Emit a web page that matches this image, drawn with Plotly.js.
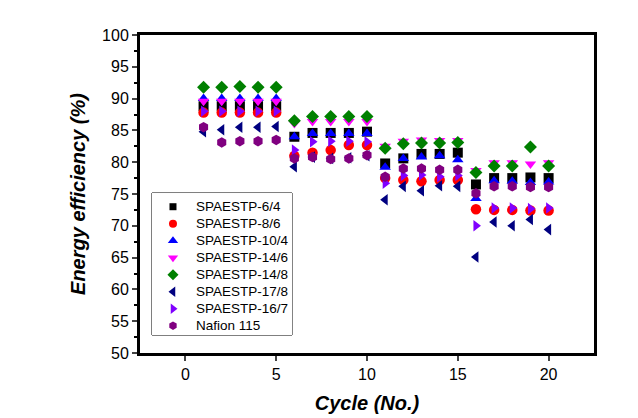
<!DOCTYPE html>
<html>
<head>
<meta charset="utf-8">
<script src="https://cdn.plot.ly/plotly-3.0.1.min.js"></script>
<style>html,body{margin:0;padding:0;background:#fff;}#chart{width:638px;height:418px;}</style>
</head>
<body>
<div id="chart"></div>
<script>
const cycles = [1,2,3,4,5,6,7,8,9,10,11,12,13,14,15,16,17,18,19,20];
const seriesNames = ["SPAESTP-6/4","SPAESTP-8/6","SPAESTP-10/4","SPAESTP-14/6","SPAESTP-14/8","SPAESTP-17/8","SPAESTP-16/7","Nafion 115"];
const s6_4  = [88.8,88.8,88.8,88.8,88.8, 84.0,84.6,84.6,84.6,84.8, 79.8,80.6,81.3,81.3,81.5, 76.5,77.5,77.5,77.6,77.5];
const s8_6  = [87.8,87.8,87.8,87.8,87.8, 81.0,81.5,81.9,82.7,82.7, 77.5,77.2,77.0,77.2,77.2, 72.6,72.5,72.5,72.4,72.4];
const s10_4 = [90.0,90.0,90.0,90.0,90.0, 84.0,84.5,84.5,84.5,84.5, 79.2,80.6,80.8,81.0,80.4, 74.3,77.1,77.0,76.8,76.9];
const s14_6 = [89.6,89.6,89.6,89.6,89.6, 86.1,86.4,86.4,86.4,86.4, 82.5,83.3,83.5,83.4,83.4, 78.7,79.9,79.9,79.7,79.9];
const s14_8 = [91.8,91.8,91.9,91.8,91.8, 86.5,87.2,87.2,87.2,87.2, 82.2,82.9,83.0,83.0,83.1, 78.4,79.4,79.4,82.4,79.4];
const s17_8 = [84.8,85.1,85.5,85.5,85.6, 79.3,80.8,80.6,80.7,81.0, 74.1,76.2,75.5,76.3,76.2, 65.1,70.6,70.0,71.0,69.4];
const s16_7 = [88.0,88.0,88.0,88.0,88.0, 81.9,83.2,83.3,83.3,83.2, 76.7,77.9,78.0,77.7,77.9, 70.0,72.8,72.8,72.7,72.8];
const nafion = [85.5,83.1,83.3,83.3,83.5, 80.6,80.8,80.5,80.6,81.1, 77.7,79.0,79.0,78.8,78.8, 75.1,76.2,76.2,76.1,76.1];

const allSeries = [s6_4,s8_6,s10_4,s14_6,s14_8,s17_8,s16_7,nafion];
const symbols = ["square","circle","triangle-up","triangle-down","diamond","triangle-left","triangle-right","hexagon"];
const colors = ["#000000","#ff0000","#0000ff","#ff00ff","#008000","#000080","#8000ff","#800080"];
const sizes = [10,10.5,10,10,10,10,10,10.5];
const legendSizes = [7,8,9,9,8.5,9,9,8.5];

const traces = allSeries.map((ys,i)=>({
  x: cycles, y: ys, type:'scatter', mode:'markers', name: seriesNames[i], showlegend:false,
  marker:{symbol:symbols[i], color:colors[i], size:sizes[i], opacity:1, line:{width:0}}
}));

// Legend drawn as a small inset subplot (box coordinates in px units)
const rowIdx = seriesNames.map((_,i)=>i);
const rowY = rowIdx.map(i=>13.7 + 17*i);
traces.push({
  x: rowIdx.map(()=>21), y: rowY, xaxis:'x2', yaxis:'y2', type:'scatter', mode:'markers', showlegend:false,
  marker:{symbol:symbols, color:colors, size:legendSizes, opacity:1, line:{width:0}}
});
const legendText = seriesNames.map((t,i)=>({
  x:42, y:rowY[i], xref:'x2', yref:'y2', text:t, showarrow:false, xanchor:'left', yanchor:'middle',
  font:{size:13.5, color:'#000', family:'Liberation Sans, Arial, sans-serif'}
}));

const layout = {
  width:638, height:418,
  margin:{l:140, r:44, t:35, b:65},
  paper_bgcolor:'#fff', plot_bgcolor:'#fff',
  font:{family:'Liberation Sans, Arial, sans-serif', color:'#000'},
  showlegend:false,
  xaxis:{range:[-2.5,22.5], tickvals:[0,5,10,15,20], ticks:'outside', ticklen:5, tickwidth:2,
         showline:true, linewidth:3, linecolor:'#000', mirror:true, showgrid:false, zeroline:false,
         tickfont:{size:16}, title:{text:'<b><i>Cycle (No.)</i></b>', font:{size:20}, standoff:14}},
  yaxis:{range:[50,100], tickvals:[50,55,60,65,70,75,80,85,90,95,100], ticks:'outside', ticklen:5, tickwidth:2,
         showline:true, linewidth:3, linecolor:'#000', mirror:true, showgrid:false, zeroline:false,
         tickfont:{size:16}, title:{text:'<b><i>Energy efficiency (%)</i></b>', font:{size:20}, standoff:12},
         minor:{dtick:2.5, ticks:'outside', ticklen:3, tickwidth:2, tickcolor:'#000'}},
  xaxis2:{domain:[0.0264,0.3348], range:[0,140], anchor:'y2', visible:false, fixedrange:true},
  yaxis2:{domain:[0.0566,0.5031], range:[142,0], anchor:'x2', visible:false, fixedrange:true},
  annotations: legendText,
  shapes:[{type:'rect', xref:'paper', yref:'paper', x0:0.0264, x1:0.3348, y0:0.0566, y1:0.5031,
           line:{color:'#000', width:1}, fillcolor:'#fff', layer:'below'}]
};
Plotly.newPlot('chart', traces, layout, {staticPlot:true, displayModeBar:false});
</script>
</body>
</html>
